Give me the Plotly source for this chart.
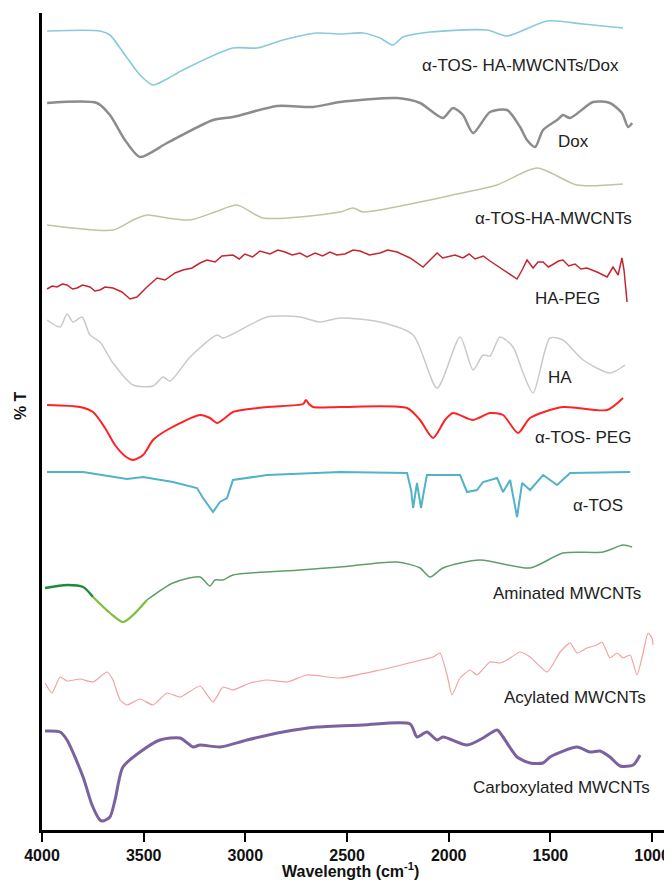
import plotly.graph_objects as go

# ---------------- data (wavenumber cm-1, offset %T) ----------------
dox_tos_wn = [3975, 3715, 3666, 3592, 3518, 3454, 3395, 3307, 3061, 2943, 2815, 2648, 2534, 2421, 2338, 2274, 2225, 2092, 1811, 1713, 1516, 1339, 1143]
dox_tos_t = [797, 797, 793, 773, 753, 743, 748, 758, 780, 780, 788, 795, 794, 795, 790, 783, 791, 796, 798, 792, 807, 804, 800]

dox_wn = [3975, 3730, 3666, 3592, 3518, 3385, 3159, 3061, 2844, 2667, 2534, 2254, 2141, 2028, 1979, 1930, 1880, 1797, 1713, 1649, 1615, 1575, 1536, 1467, 1438, 1403, 1290, 1207, 1148, 1118, 1098]
dox_t = [725, 725, 713, 688, 671, 685, 708, 711, 722, 721, 726, 730, 725, 710, 720, 713, 695, 716, 718, 701, 688, 681, 698, 708, 713, 710, 726, 725, 715, 701, 705]

tos_ha_wn = [3975, 3651, 3552, 3484, 3385, 3272, 3149, 3041, 2913, 2534, 2470, 2421, 2092, 1959, 1762, 1566, 1369, 1143]
tos_ha_t = [603, 598, 608, 613, 610, 608, 616, 623, 610, 616, 620, 616, 628, 634, 643, 660, 643, 644]

hapeg_wn = [3975, 3950, 3926, 3900, 3877, 3850, 3828, 3800, 3764, 3740, 3715, 3690, 3651, 3607, 3567, 3533, 3484, 3434, 3395, 3346, 3307, 3262, 3223, 3189, 3149, 3115, 3061, 3030, 3002, 2965, 2928, 2879, 2840, 2805, 2770, 2731, 2697, 2657, 2620, 2584, 2550, 2510, 2470, 2436, 2390, 2338, 2300, 2254, 2190, 2126, 2092, 2057, 2030, 2008, 1969, 1930, 1900, 1870, 1830, 1797, 1733, 1698, 1664, 1639, 1615, 1585, 1561, 1536, 1510, 1492, 1460, 1438, 1410, 1379, 1350, 1320, 1271, 1221, 1192, 1167, 1148, 1138, 1123]
hapeg_t = [539, 542, 541, 544, 543, 539, 540, 543, 541, 537, 538, 541, 540, 536, 529, 531, 541, 550, 548, 555, 558, 560, 565, 568, 566, 572, 573, 569, 574, 571, 577, 574, 578, 576, 573, 575, 571, 575, 572, 576, 573, 574, 578, 577, 573, 575, 578, 576, 570, 561, 568, 575, 570, 571, 573, 570, 574, 569, 572, 567, 558, 553, 549, 558, 568, 560, 566, 566, 561, 563, 567, 568, 562, 564, 559, 560, 556, 551, 561, 553, 570, 558, 526]

ha_wn = [3975, 3911, 3877, 3848, 3803, 3764, 3715, 3651, 3552, 3454, 3405, 3370, 3272, 3139, 3110, 2893, 2731, 2633, 2534, 2338, 2175, 2057, 1944, 1880, 1831, 1797, 1748, 1684, 1634, 1585, 1502, 1438, 1339, 1207, 1133]
ha_t = [508, 501, 514, 506, 511, 493, 486, 465, 443, 442, 451, 447, 471, 493, 490, 511, 511, 506, 510, 506, 493, 440, 491, 458, 473, 472, 491, 481, 455, 435, 490, 488, 468, 455, 463]

tospeg_wn = [3975, 3813, 3749, 3690, 3641, 3592, 3552, 3503, 3454, 3385, 3223, 3174, 3139, 3100, 3061, 2893, 2716, 2702, 2687, 2667, 2534, 2205, 2141, 2077, 2018, 1979, 1880, 1797, 1733, 1659, 1600, 1438, 1221, 1143]
tospeg_t = [423, 421, 416, 400, 383, 372, 368, 373, 388, 398, 413, 410, 405, 410, 416, 421, 424, 428, 424, 421, 421, 420, 408, 390, 408, 415, 408, 415, 413, 395, 410, 421, 418, 430]

tos_wn = [3975, 3798, 3582, 3503, 3356, 3238, 3208, 3159, 3125, 3090, 3061, 2893, 2534, 2205, 2185, 2175, 2156, 2136, 2121, 2107, 1944, 1910, 1861, 1831, 1762, 1733, 1698, 1664, 1639, 1600, 1536, 1467, 1403, 1108]
tos_t = [356, 356, 349, 351, 346, 340, 330, 316, 326, 330, 348, 353, 356, 355, 338, 320, 345, 320, 338, 353, 353, 336, 338, 346, 350, 336, 348, 311, 345, 338, 353, 343, 355, 356]

amin_wn = [3985, 3877, 3798, 3749, 3666, 3602, 3552, 3484, 3356, 3223, 3174, 3149, 3110, 3061, 2731, 2534, 2254, 2141, 2092, 2028, 1846, 1600, 1438, 1241, 1143, 1098]
amin_t = [240, 243, 241, 231, 215, 206, 213, 228, 245, 251, 242, 248, 248, 253, 258, 261, 266, 260, 251, 260, 268, 260, 275, 276, 283, 281]

acyl_wn = [3985, 3951, 3911, 3877, 3813, 3749, 3680, 3651, 3616, 3582, 3518, 3454, 3385, 3321, 3223, 3159, 3110, 3061, 2977, 2893, 2795, 2697, 2534, 2338, 2175, 2077, 2043, 2008, 1984, 1944, 1895, 1861, 1797, 1748, 1713, 1649, 1600, 1516, 1452, 1403, 1369, 1320, 1271, 1246, 1207, 1172, 1143, 1108, 1074, 1044, 1020, 1000, 995]
acyl_t = [145, 135, 151, 147, 149, 146, 156, 148, 128, 123, 129, 123, 135, 131, 142, 126, 141, 138, 145, 148, 146, 153, 150, 158, 166, 171, 175, 153, 133, 150, 158, 153, 166, 165, 168, 176, 171, 156, 176, 185, 175, 180, 183, 186, 170, 175, 170, 173, 153, 175, 195, 190, 183]

carb_wn = [3985, 3911, 3877, 3798, 3754, 3715, 3700, 3666, 3641, 3602, 3518, 3420, 3321, 3257, 3223, 3125, 2992, 2815, 2648, 2421, 2190, 2156, 2107, 2057, 2028, 1910, 1831, 1762, 1733, 1664, 1600, 1536, 1502, 1369, 1305, 1256, 1207, 1157, 1093, 1059]
carb_t = [97, 96, 88, 51, 23, 8, 7, 11, 28, 61, 76, 88, 90, 81, 83, 81, 88, 96, 101, 103, 104, 91, 96, 88, 91, 83, 90, 98, 91, 71, 65, 65, 71, 81, 76, 77, 71, 62, 63, 73]

labels = ["α-TOS- HA-MWCNTs/Dox", "Dox", "α-TOS-HA-MWCNTs", "HA-PEG", "HA",
          "α-TOS- PEG", "α-TOS", "Aminated MWCNTs", "Acylated MWCNTs", "Carboxylated MWCNTs"]
label_wn = [1153, 1300, 1089, 1246, 1384, 1093, 1133, 1044, 1020, 1000]
label_t = [763, 687, 610, 530, 451, 391, 323, 235, 131, 41]

x_ticks = [4000, 3500, 3000, 2500, 2000, 1500, 1000]

# ---------------- figure ----------------
fig = go.Figure()

def add(x, y, color, width, shape="spline", smooth=0.7):
    line = dict(color=color, width=width, shape=shape)
    if shape == "spline":
        line["smoothing"] = smooth
    fig.add_trace(go.Scatter(x=x, y=y, mode="lines", line=line,
                             showlegend=False, hoverinfo="skip"))

add(dox_tos_wn, dox_tos_t, "#88c9dd", 1.6)
add(dox_wn, dox_t, "#8c8c8c", 2.5)
add(tos_ha_wn, tos_ha_t, "#c2c2a4", 1.5)
add(hapeg_wn, hapeg_t, "#c42630", 1.5, "linear")
add(ha_wn, ha_t, "#cacaca", 1.5)
add(tospeg_wn, tospeg_t, "#ff2222", 2)
add(tos_wn, tos_t, "#52b2ca", 2, "linear")
# aminated: dark-green start, lime valley, grey-green remainder
add(amin_wn[:4], amin_t[:4], "#1e8c36", 2.5)
add(amin_wn[3:8], amin_t[3:8], "#7cbf3a", 2.2)
add(amin_wn[7:], amin_t[7:], "#5f9e6c", 1.5)
add(acyl_wn, acyl_t, "#f2a2a2", 1.2, "spline", 0.5)
add(carb_wn, carb_t, "#7a62a0", 3)

for txt, xv, yv in zip(labels, label_wn, label_t):
    fig.add_annotation(x=xv, y=yv, text=txt, showarrow=False, xanchor="right", yanchor="middle",
                       font=dict(family="Liberation Sans, Arial", size=17, color="#222222"))

fig.add_annotation(xref="paper", yref="paper", x=-0.035, y=0.52, text="<b>% T</b>", textangle=-90,
                   showarrow=False, xanchor="center", yanchor="middle",
                   font=dict(family="Liberation Sans, Arial", size=16, color="#111111"))

fig.add_annotation(xref="paper", yref="paper", x=0.49, y=-0.049, text="<b>Wavelength (cm<sup>-1</sup>)</b>",
                   showarrow=False, xanchor="center", yanchor="middle",
                   font=dict(family="Liberation Sans, Arial", size=16, color="#111111"))

# page body has an 8px default margin, so the figure is sized 8px smaller and margins shifted
fig.update_layout(
    width=664, height=878,
    margin=dict(l=34, r=0, t=5, b=56),
    paper_bgcolor="white", plot_bgcolor="white",
    font=dict(family="Liberation Sans, Arial", color="#111111"),
    xaxis=dict(range=[4000, 902], tickvals=x_ticks, ticktext=[f"<b>{v}</b>" for v in x_ticks],
               showgrid=False, zeroline=False, showline=True, linecolor="black", linewidth=3,
               ticks="outside", ticklen=9, tickwidth=2, tickcolor="black", automargin=False,
               tickfont=dict(size=16, color="#111111")),
    yaxis=dict(range=[-2, 815], showgrid=False, zeroline=False, showline=True, linecolor="black",
               linewidth=3, showticklabels=False, ticks="", automargin=False),
)

fig.write_html("out.html")
